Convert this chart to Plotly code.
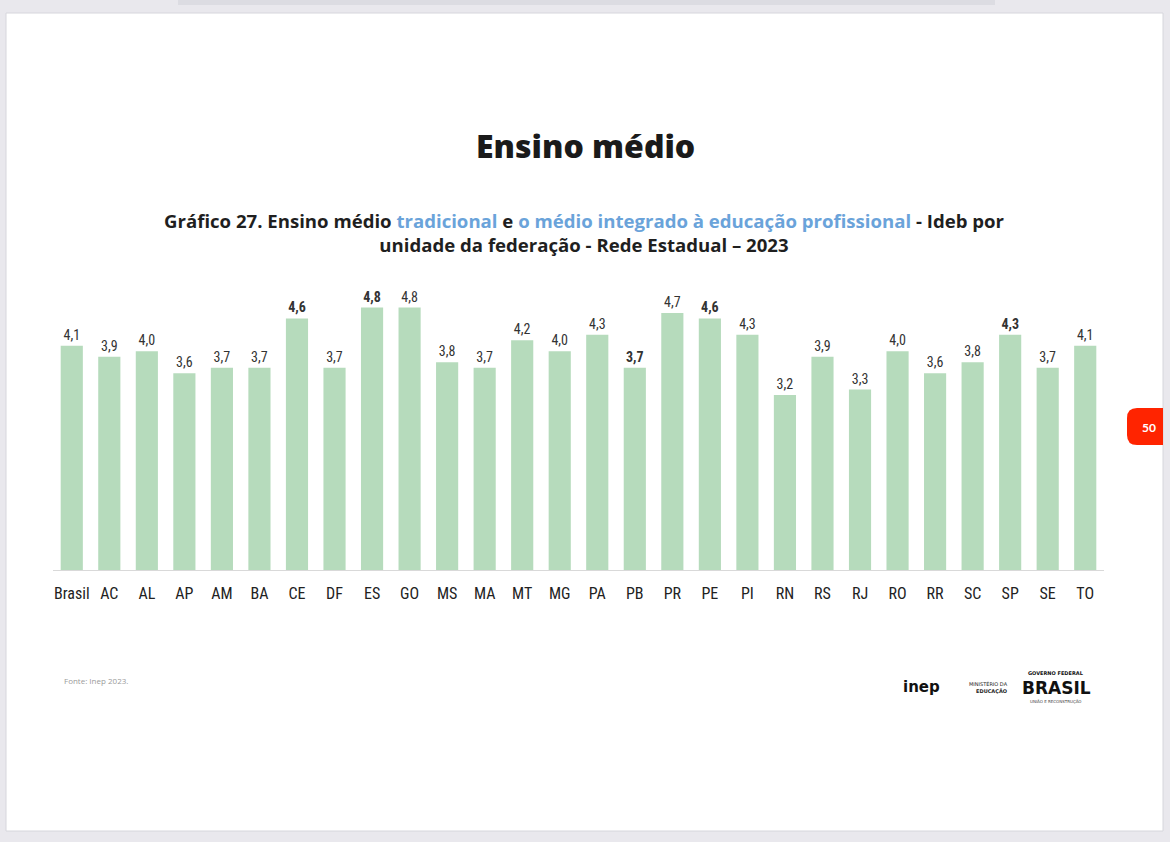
import plotly.graph_objects as go

categories = ["Brasil", "AC", "AL", "AP", "AM", "BA", "CE", "DF", "ES", "GO", "MS", "MA", "MT", "MG",
              "PA", "PB", "PR", "PE", "PI", "RN", "RS", "RJ", "RO", "RR", "SC", "SP", "SE", "TO"]
values = [4.1, 3.9, 4.0, 3.6, 3.7, 3.7, 4.6, 3.7, 4.8, 4.8, 3.8, 3.7, 4.2, 4.0,
          4.3, 3.7, 4.7, 4.6, 4.3, 3.2, 3.9, 3.3, 4.0, 3.6, 3.8, 4.3, 3.7, 4.1]
bold_flags = [False, False, False, False, False, False, True, False, True, False, False, False, False, False,
              False, True, False, True, False, False, False, False, False, False, False, True, False, False]

W, H = 1170, 842


def px(x):
    return x / W


def py(y):
    return 1 - y / H


labels = []
for v, b in zip(values, bold_flags):
    s = f"{v:.1f}".replace(".", ",")
    labels.append(f"<b>{s}</b>" if b else s)

narrow = "Liberation Sans Narrow, Arial Narrow, Roboto Condensed, Roboto, sans-serif"

fig = go.Figure()
fig.add_trace(go.Bar(
    x=categories, y=values, text=labels, textposition="outside",
    textfont=dict(family=narrow, size=14, color="#333333"),
    marker=dict(color="#b6dbbc", line=dict(width=0)),
    cliponaxis=False, hoverinfo="skip",
))

shapes = [
    dict(type="rect", xref="paper", yref="paper", x0=px(6), x1=px(1163), y0=py(831), y1=py(13),
         fillcolor="white", line=dict(color="#d6d6dc", width=1), layer="below"),
    dict(type="rect", xref="paper", yref="paper", x0=px(178), x1=px(995), y0=py(5), y1=py(0),
         fillcolor="#dcdce2", line=dict(width=0), layer="below"),
    dict(type="path", xref="paper", yref="paper",
         path=f"M {px(1163)},{py(408)} L {px(1137)},{py(408)} Q {px(1127)},{py(408)} {px(1127)},{py(418)} "
              f"L {px(1127)},{py(435)} Q {px(1127)},{py(445)} {px(1137)},{py(445)} L {px(1163)},{py(445)} Z",
         fillcolor="#ff2400", line=dict(width=0), layer="above"),
]

head = "Open Sans, Lato, sans-serif"
annotations = [
    dict(text="Ensino médio", x=px(585), y=py(145), xref="paper", yref="paper",
         showarrow=False, font=dict(family=head, size=32, color="#1a1a1a", weight=800),
         xanchor="center", yanchor="middle"),
    dict(text="Gráfico 27. Ensino médio <span style='color:#6aa3da'>tradicional</span> e "
              "<span style='color:#6aa3da'>o médio integrado à educação profissional</span> - Ideb por"
              "<br>unidade da federação - Rede Estadual – 2023",
         x=px(584), y=py(233), xref="paper", yref="paper", showarrow=False, align="center",
         font=dict(family=head, size=18.6, color="#1f1f1f", weight=700),
         xanchor="center", yanchor="middle"),
    dict(text="Fonte: Inep 2023.", x=px(62), y=py(680), xref="paper", yref="paper", showarrow=False,
         font=dict(family="Open Sans, sans-serif", size=8, color="#9a9a9a"),
         xanchor="left", yanchor="middle"),
    dict(text="<b>50</b>", x=px(1149), y=py(427), xref="paper", yref="paper", showarrow=False,
         font=dict(family="Lato, sans-serif", size=12, color="white"),
         xanchor="center", yanchor="middle"),
    dict(text="<b>inep</b>", x=px(921), y=py(687), xref="paper", yref="paper", showarrow=False,
         font=dict(family="DejaVu Sans, sans-serif", size=15, color="#111111"),
         xanchor="center", yanchor="middle"),
    dict(text="MINISTÉRIO DA<br><b>EDUCAÇÃO</b>", x=px(1010), y=py(687), xref="paper", yref="paper",
         showarrow=False, align="right",
         font=dict(family="DejaVu Sans, sans-serif", size=5, color="#222222"),
         xanchor="right", yanchor="middle"),
    dict(text="<b>GOVERNO FEDERAL</b>", x=px(1056), y=py(673), xref="paper", yref="paper", showarrow=False,
         font=dict(family="DejaVu Sans, sans-serif", size=5, color="#111111"),
         xanchor="center", yanchor="middle"),
    dict(text="<b>BRASIL</b>", x=px(1056), y=py(688), xref="paper", yref="paper", showarrow=False,
         font=dict(family="DejaVu Sans, sans-serif", size=17, color="#111111"),
         xanchor="center", yanchor="middle"),
    dict(text="UNIÃO E RECONSTRUÇÃO", x=px(1056), y=py(701), xref="paper", yref="paper", showarrow=False,
         font=dict(family="DejaVu Sans, sans-serif", size=4, color="#444444"),
         xanchor="center", yanchor="middle"),
]

fig.update_layout(
    width=W, height=H, autosize=False,
    margin=dict(l=0, r=0, t=0, b=0, pad=0),
    paper_bgcolor="#e9e8ed", plot_bgcolor="rgba(0,0,0,0)",
    showlegend=False, bargap=0.41,
    shapes=shapes, annotations=annotations,
    xaxis=dict(domain=[px(53), px(1104)], showgrid=False, zeroline=False,
               showline=True, linecolor="#d9d9d9", linewidth=1, ticks="",
               ticklabelstandoff=9,
               tickfont=dict(family=narrow, size=16, color="#222222")),
    yaxis=dict(domain=[py(570), py(290)], range=[0, 5.12], visible=False, showgrid=False, zeroline=False),
)

fig.write_html("out.html", config={"displayModeBar": False},
               post_script="document.body.style.margin='0';document.body.style.overflow='hidden';")
